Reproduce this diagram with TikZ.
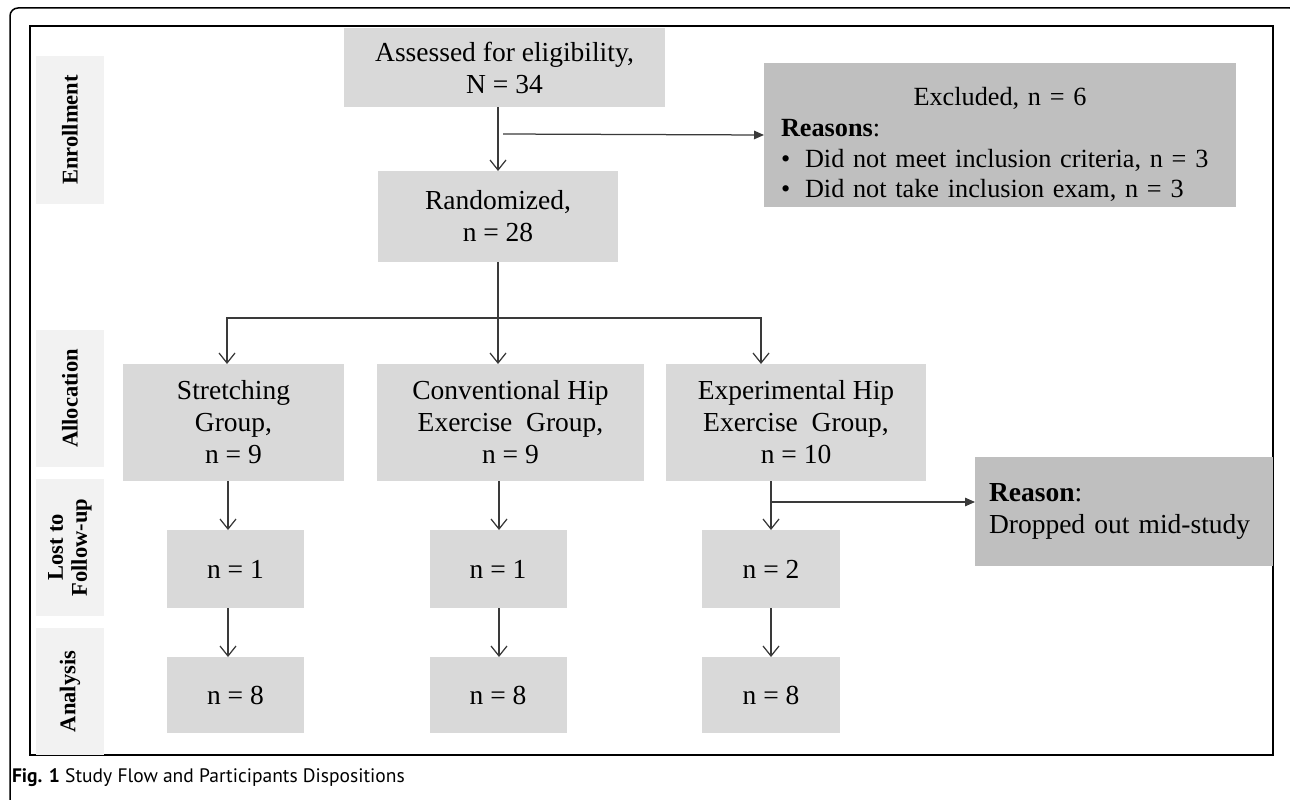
\documentclass[tikz,border=0pt]{standalone}
\usepackage{fontspec}
\setmainfont{Liberation Serif}
\newfontfamily\capfont{PT Sans}
\usetikzlibrary{arrows.meta}

\definecolor{boxgray}{HTML}{D9D9D9}
\definecolor{notegray}{HTML}{BFBFBF}
\definecolor{phasegray}{HTML}{F2F2F2}
\definecolor{linegray}{HTML}{3A3A3A}

\begin{document}
\begin{tikzpicture}[x=0.4pt, y=-0.4pt,
	every node/.style={font=\fontsize{11}{12.8}\selectfont, inner sep=0pt, outer sep=0pt},
	flowbox/.style={fill=boxgray, align=center},
	notebox/.style={fill=notegray, align=left},
	phase/.style={fill=phasegray, rotate=90, minimum height=27.2pt, align=center, font=\fontsize{9}{9.6}\selectfont\bfseries},
	down/.style={draw=linegray, line width=0.5pt, -{Straight Barb[length=4pt, width=6.4pt]}},
	side/.style={draw=linegray, line width=0.5pt, -{Triangle[length=4pt, width=3.4pt]}},
	link/.style={draw=linegray, line width=0.5pt}]
	\useasboundingbox (0,0) rectangle (1290,799);
	% frames
	\draw[line width=0.6pt, rounded corners=3.2pt] (10,830) -- (10,8) -- (1298,8) -- (1298,830);
	\draw[line width=0.8pt] (30,26) rectangle (1273,755);
	% phase labels
	\node[phase, minimum width=59.2pt] (enrl) at (70,130) {Enrollment};
	\node[phase, minimum width=54.8pt] (alloc) at (70,398.5) {Allocation};
	\node[phase, minimum width=54.8pt] (follow) at (70,547.5) {Lost to\\Follow-up};
	\node[phase, minimum width=50.8pt] (anal) at (70,691.5) {Analysis};
	% enrollment
	\node[flowbox, minimum width=128.4pt, minimum height=31.6pt] (assess) at (504.5,67.5) {Assessed for eligibility,\\N = 34};
	\node[flowbox, minimum width=96pt, minimum height=36.4pt] (rand) at (498,216.5) {Randomized,\\n = 28};
	\node[notebox, text width=175.2pt, inner xsep=6.8pt, minimum height=57.6pt, font=\fontsize{10.5}{12.3}\selectfont] (excl) at (1000,135)
		{\rule{0pt}{15pt}\makebox[\linewidth][c]{Excluded, n = 6}\\
		 \textbf{Reasons}:\\
		 \makebox[9.6pt][l]{\textbullet}Did not meet inclusion criteria, n = 3\\
		 \makebox[9.6pt][l]{\textbullet}Did not take inclusion exam, n = 3};
	% allocation
	\node[flowbox, minimum width=88.4pt, minimum height=46.8pt] (grp1) at (233.5,422.5) {Stretching\\Group,\\n = 9};
	\node[flowbox, minimum width=106.8pt, minimum height=46.8pt] (grp2) at (510.5,422.5) {Conventional Hip\\Exercise~ Group,\\n = 9};
	\node[flowbox, minimum width=104pt, minimum height=46.8pt] (grp3) at (796,422.5) {Experimental Hip\\Exercise~ Group,\\n = 10};
	% follow-up and analysis
	\node[flowbox, minimum width=54.8pt, minimum height=31.2pt] (lost1) at (235.5,569) {n = 1};
	\node[flowbox, minimum width=54.8pt, minimum height=31.2pt] (lost2) at (498,569) {n = 1};
	\node[flowbox, minimum width=55.2pt, minimum height=31.2pt] (lost3) at (771,569) {n = 2};
	\node[flowbox, minimum width=54.8pt, minimum height=30.4pt] (ana1) at (235.5,695) {n = 8};
	\node[flowbox, minimum width=54.8pt, minimum height=30.4pt] (ana2) at (498,695) {n = 8};
	\node[flowbox, minimum width=55.2pt, minimum height=30.4pt] (ana3) at (771,695) {n = 8};
	\node[notebox, text width=108pt, inner xsep=5.6pt, minimum height=43.6pt] (drop) at (1124,511.5) {\textbf{Reason}:\\Dropped out mid-study};
	% connectors
	\coordinate (col1) at (228,0);
	\coordinate (col2) at (499,0);
	\coordinate (col3) at (771,0);
	\coordinate (exclfork) at (503,134);
	\coordinate (split) at (498,318);
	\coordinate (dropfork) at (771,502);
	\draw[down] (rand.north |- assess.south) -- (rand.north);
	\draw[side] (exclfork) -- (excl.west);
	\draw[link] (rand.south) -- (split);
	\draw[down] (split) -| ([xshift=-2.6pt]grp1.north);
	\draw[down] (split) -- (split |- grp2.north);
	\draw[down] (split) -| ([xshift=-14pt]grp3.north);
	\foreach \i in {1,2,3} {
		\draw[down] (grp\i.south -| col\i) -- (lost\i.north -| col\i);
		\draw[down] (lost\i.south -| col\i) -- (ana\i.north -| col\i);
	}
	\draw[side] (dropfork) -- (drop.west |- dropfork);
	% caption
	\node[anchor=base west, font=\capfont\fontsize{7.8}{9}\selectfont] (caption) at (12,782) {\textbf{Fig. 1} Study Flow and Participants Dispositions};
\end{tikzpicture}
\end{document}
